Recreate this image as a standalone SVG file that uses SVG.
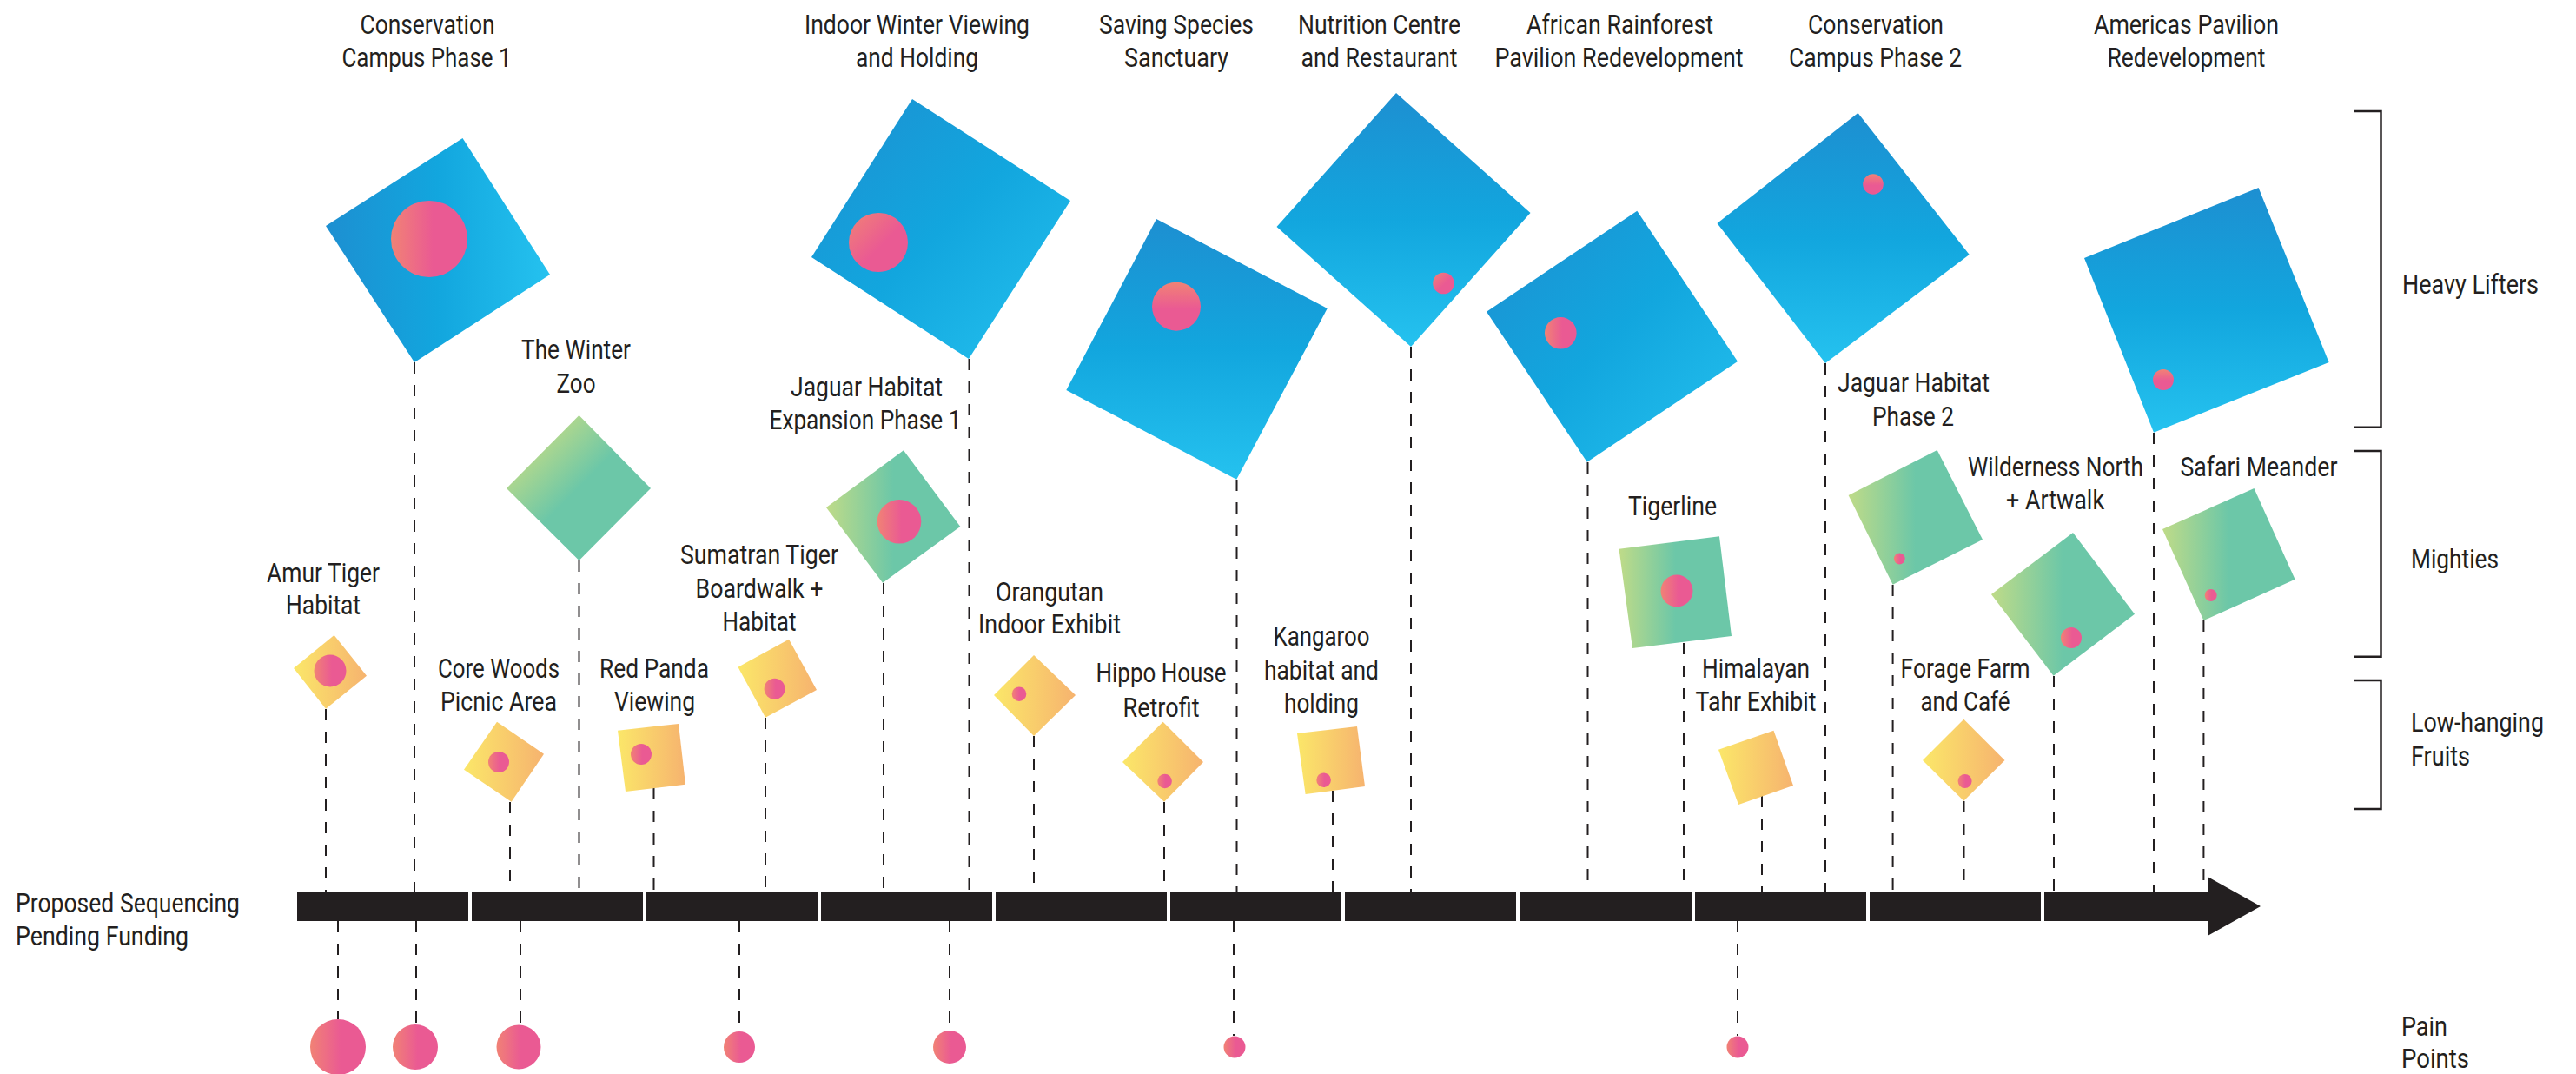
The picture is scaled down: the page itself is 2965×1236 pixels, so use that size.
<svg xmlns="http://www.w3.org/2000/svg" width="2965" height="1236" viewBox="0 0 2965 1236">
<defs>
<linearGradient id="blueH" x1="0" y1="0" x2="1" y2="0"><stop offset="0" stop-color="#1d8fd1"/><stop offset="0.5" stop-color="#12a6de"/><stop offset="1" stop-color="#25c2ef"/></linearGradient>
<linearGradient id="blueV" x1="0" y1="0" x2="0" y2="1"><stop offset="0" stop-color="#1d8fd1"/><stop offset="0.5" stop-color="#12a6de"/><stop offset="1" stop-color="#25c2ef"/></linearGradient>
<linearGradient id="blueD" x1="0" y1="0" x2="1" y2="1"><stop offset="0" stop-color="#1d8fd1"/><stop offset="0.5" stop-color="#12a6de"/><stop offset="1" stop-color="#25c2ef"/></linearGradient>
<linearGradient id="greenH" x1="0" y1="0" x2="1" y2="0"><stop offset="0" stop-color="#bfdb88"/><stop offset="0.5" stop-color="#6cc7a8"/><stop offset="1" stop-color="#6cc7a8"/></linearGradient>
<linearGradient id="greenD" x1="0" y1="0" x2="1" y2="1"><stop offset="0.15" stop-color="#c3dc86"/><stop offset="0.5" stop-color="#6cc7a8"/><stop offset="1" stop-color="#6cc7a8"/></linearGradient>
<linearGradient id="yellow" x1="0" y1="0" x2="1" y2="0"><stop offset="0" stop-color="#fbe769"/><stop offset="1" stop-color="#f6b36f"/></linearGradient>
<linearGradient id="pink" x1="0" y1="0" x2="1" y2="0"><stop offset="0" stop-color="#f18275"/><stop offset="0.55" stop-color="#ea5a93"/><stop offset="1" stop-color="#ea5a93"/></linearGradient>
<linearGradient id="pinkV" x1="0" y1="0" x2="0" y2="1"><stop offset="0" stop-color="#f18275"/><stop offset="0.55" stop-color="#ea5a93"/><stop offset="1" stop-color="#ea5a93"/></linearGradient>
<linearGradient id="pinkD" x1="0" y1="0" x2="1" y2="1"><stop offset="0" stop-color="#f18275"/><stop offset="0.55" stop-color="#ea5a93"/><stop offset="1" stop-color="#ea5a93"/></linearGradient>
</defs>
<style>
text{font-family:Roboto,"Liberation Sans",sans-serif;font-size:31px;fill:#231f20}
.c{text-anchor:middle}
.dash{stroke:#231f20;stroke-width:2;stroke-dasharray:13 13;fill:none}
.br{stroke:#231f20;stroke-width:2.5;fill:none}
.bar{fill:#231f20}
.pc{fill:url(#pink)}
</style>
<rect width="2965" height="1236" fill="#ffffff"/>

<g id="connectors">
<line class="dash" x1="375" y1="816" x2="375" y2="1026"/>
<line class="dash" x1="477" y1="417" x2="477" y2="1026"/>
<line class="dash" x1="587" y1="923" x2="587" y2="1026"/>
<line class="dash" x1="666.5" y1="645" x2="666.5" y2="1026"/>
<line class="dash" x1="752.5" y1="907" x2="752.5" y2="1026"/>
<line class="dash" x1="881" y1="826" x2="881" y2="1026"/>
<line class="dash" x1="1017" y1="671" x2="1017" y2="1026"/>
<line class="dash" x1="1115.5" y1="413" x2="1115.5" y2="1026"/>
<line class="dash" x1="1190" y1="847" x2="1190" y2="1026"/>
<line class="dash" x1="1340" y1="923" x2="1340" y2="1026"/>
<line class="dash" x1="1423.5" y1="552" x2="1423.5" y2="1026"/>
<line class="dash" x1="1534" y1="910" x2="1534" y2="1026"/>
<line class="dash" x1="1624" y1="399" x2="1624" y2="1026"/>
<line class="dash" x1="1827.5" y1="532" x2="1827.5" y2="1026"/>
<line class="dash" x1="1938" y1="740" x2="1938" y2="1026"/>
<line class="dash" x1="2028" y1="916" x2="2028" y2="1026"/>
<line class="dash" x1="2101" y1="418" x2="2101" y2="1026"/>
<line class="dash" x1="2178.6" y1="673" x2="2178.6" y2="1026"/>
<line class="dash" x1="2260.5" y1="922" x2="2260.5" y2="1026"/>
<line class="dash" x1="2364" y1="778" x2="2364" y2="1026"/>
<line class="dash" x1="2479" y1="498" x2="2479" y2="1026"/>
<line class="dash" x1="2536.4" y1="714" x2="2536.4" y2="1026"/>
<line class="dash" x1="389" y1="1060" x2="389" y2="1173"/>
<line class="dash" x1="479" y1="1060" x2="479" y2="1179"/>
<line class="dash" x1="599" y1="1060" x2="599" y2="1180"/>
<line class="dash" x1="851" y1="1060" x2="851" y2="1187"/>
<line class="dash" x1="1093" y1="1060" x2="1093" y2="1186"/>
<line class="dash" x1="1420" y1="1060" x2="1420" y2="1192"/>
<line class="dash" x1="2000" y1="1060" x2="2000" y2="1192"/>
</g>

<g id="timeline">
<rect class="bar" x="342" y="1026" width="197" height="34"/>
<rect class="bar" x="543" y="1026" width="197" height="34"/>
<rect class="bar" x="744" y="1026" width="197" height="34"/>
<rect class="bar" x="945" y="1026" width="197" height="34"/>
<rect class="bar" x="1146" y="1026" width="197" height="34"/>
<rect class="bar" x="1347" y="1026" width="197" height="34"/>
<rect class="bar" x="1548" y="1026" width="197" height="34"/>
<rect class="bar" x="1750" y="1026" width="197" height="34"/>
<rect class="bar" x="1951" y="1026" width="197" height="34"/>
<rect class="bar" x="2152" y="1026" width="197" height="34"/>
<polygon class="bar" points="2353,1026 2541,1026 2541,1009 2602,1043 2541,1077 2541,1060 2353,1060"/>
<text x="18" y="1050" textLength="258" lengthAdjust="spacingAndGlyphs">Proposed Sequencing</text>
<text x="18" y="1088" textLength="199" lengthAdjust="spacingAndGlyphs">Pending Funding</text>
</g>

<g id="categories">
<path class="br" d="M2709,128 H2740.5 V491.7 H2709"/>
<path class="br" d="M2709,519 H2740.5 V755.7 H2709"/>
<path class="br" d="M2709,783 H2740.5 V931 H2709"/>
<text x="2765" y="338" textLength="157" lengthAdjust="spacingAndGlyphs">Heavy Lifters</text>
<text x="2775" y="654" textLength="101" lengthAdjust="spacingAndGlyphs">Mighties</text>
<text x="2775" y="842" textLength="153" lengthAdjust="spacingAndGlyphs">Low-hanging</text>
<text x="2775" y="881" textLength="68" lengthAdjust="spacingAndGlyphs">Fruits</text>
<text x="2764" y="1192" textLength="53" lengthAdjust="spacingAndGlyphs">Pain</text>
<text x="2764" y="1229" textLength="78" lengthAdjust="spacingAndGlyphs">Points</text>
</g>

<g id="pain-points">
<circle class="pc" cx="389" cy="1205" r="32"/>
<circle class="pc" cx="478" cy="1205" r="26"/>
<circle class="pc" cx="597" cy="1205" r="25.5"/>
<circle class="pc" cx="851" cy="1205" r="18"/>
<circle class="pc" cx="1093" cy="1205" r="19"/>
<circle class="pc" cx="1421" cy="1205" r="12.5"/>
<circle class="pc" cx="2000" cy="1205" r="12.5"/>
</g>

<!-- Heavy Lifters -->
<g id="conservation-campus-1">
<polygon points="532.5,159 633,316 477,417 375,260" fill="url(#blueH)"/>
<circle cx="494" cy="275" r="44" fill="url(#pink)"/>
<text class="c" x="492" y="39" textLength="155" lengthAdjust="spacingAndGlyphs">Conservation</text>
<text class="c" x="491" y="77" textLength="195" lengthAdjust="spacingAndGlyphs">Campus Phase 1</text>
</g>
<g id="indoor-winter">
<polygon points="1050,114 1232,231 1115,413 934,296" fill="url(#blueD)"/>
<circle cx="1011" cy="279" r="34" fill="url(#pinkD)"/>
<text class="c" x="1055.5" y="39" textLength="259" lengthAdjust="spacingAndGlyphs">Indoor Winter Viewing</text>
<text class="c" x="1055.5" y="77" textLength="141" lengthAdjust="spacingAndGlyphs">and Holding</text>
</g>
<g id="saving-species">
<polygon points="1331,252 1527.7,355 1423.3,551.7 1227.3,449" fill="url(#blueV)"/>
<circle cx="1354" cy="352.7" r="28" fill="url(#pinkV)"/>
<text class="c" x="1354" y="39" textLength="178" lengthAdjust="spacingAndGlyphs">Saving Species</text>
<text class="c" x="1354" y="77" textLength="120" lengthAdjust="spacingAndGlyphs">Sanctuary</text>
</g>
<g id="nutrition-centre">
<polygon points="1607,107 1761.5,245 1624,399 1469.5,261" fill="url(#blueV)"/>
<circle cx="1661.5" cy="326" r="12.3" fill="url(#pinkD)"/>
<text class="c" x="1587.5" y="39" textLength="187" lengthAdjust="spacingAndGlyphs">Nutrition Centre</text>
<text class="c" x="1587.5" y="77" textLength="180" lengthAdjust="spacingAndGlyphs">and Restaurant</text>
</g>
<g id="african-rainforest">
<polygon points="1884.3,242.7 2000,416 1826.7,531.7 1711,358.7" fill="url(#blueD)"/>
<circle cx="1796.3" cy="383.3" r="18.3" fill="url(#pink)"/>
<text class="c" x="1864.5" y="39" textLength="215" lengthAdjust="spacingAndGlyphs">African Rainforest</text>
<text class="c" x="1863.5" y="77" textLength="286" lengthAdjust="spacingAndGlyphs">Pavilion Redevelopment</text>
</g>
<g id="conservation-campus-2">
<polygon points="2138.5,130 2266.7,293 2101,418 1976.5,257" fill="url(#blueV)"/>
<circle cx="2156" cy="212" r="11.8" fill="url(#pinkV)"/>
<text class="c" x="2159" y="39" textLength="156" lengthAdjust="spacingAndGlyphs">Conservation</text>
<text class="c" x="2158.5" y="77" textLength="199" lengthAdjust="spacingAndGlyphs">Campus Phase 2</text>
</g>
<g id="americas-pavilion">
<polygon points="2599.6,216 2680.6,417 2479,497.7 2399,297" fill="url(#blueV)"/>
<circle cx="2490" cy="437" r="12" fill="url(#pinkV)"/>
<text class="c" x="2516.5" y="39" textLength="213" lengthAdjust="spacingAndGlyphs">Americas Pavilion</text>
<text class="c" x="2516.5" y="77" textLength="182" lengthAdjust="spacingAndGlyphs">Redevelopment</text>
</g>

<!-- Mighties -->
<g id="winter-zoo">
<polygon points="666.5,478 749,562 666.5,645 583,562" fill="url(#greenD)"/>
<text class="c" x="663" y="413" textLength="126" lengthAdjust="spacingAndGlyphs">The Winter</text>
<text class="c" x="663" y="452" textLength="45" lengthAdjust="spacingAndGlyphs">Zoo</text>
</g>
<g id="jaguar-expansion-1">
<polygon points="1040,518.3 1105.3,606 1016,670.7 951,584" fill="url(#greenH)"/>
<circle cx="1035" cy="600.3" r="25.3" fill="url(#pink)"/>
<text class="c" x="997.5" y="456" textLength="175" lengthAdjust="spacingAndGlyphs">Jaguar Habitat</text>
<text class="c" x="996" y="494" textLength="221" lengthAdjust="spacingAndGlyphs">Expansion Phase 1</text>
</g>
<g id="tigerline">
<polygon points="1863.5,631.7 1979,617.3 1993,732 1879,746" fill="url(#greenH)"/>
<circle cx="1930" cy="680" r="18.5" fill="url(#pink)"/>
<text class="c" x="1925" y="593" textLength="102" lengthAdjust="spacingAndGlyphs">Tigerline</text>
</g>
<g id="jaguar-phase-2">
<polygon points="2229.7,518 2282,621 2178.6,672.7 2127.6,570" fill="url(#greenH)"/>
<circle cx="2186.3" cy="643" r="6.4" fill="url(#pink)"/>
<text class="c" x="2202.5" y="451" textLength="175" lengthAdjust="spacingAndGlyphs">Jaguar Habitat</text>
<text class="c" x="2202" y="490" textLength="94" lengthAdjust="spacingAndGlyphs">Phase 2</text>
</g>
<g id="wilderness-north">
<polygon points="2386,613 2457,706.7 2363.6,777.7 2292,684" fill="url(#greenH)"/>
<circle cx="2384" cy="734" r="12" fill="url(#pink)"/>
<text class="c" x="2366" y="548" textLength="202" lengthAdjust="spacingAndGlyphs">Wilderness North</text>
<text class="c" x="2365.5" y="586" textLength="113" lengthAdjust="spacingAndGlyphs">+ Artwalk</text>
</g>
<g id="safari-meander">
<polygon points="2594.5,562 2641.6,666.7 2536.4,714 2489,609" fill="url(#greenH)"/>
<circle cx="2544.7" cy="685" r="7" fill="url(#pink)"/>
<text class="c" x="2600" y="548" textLength="181" lengthAdjust="spacingAndGlyphs">Safari Meander</text>
</g>

<!-- Low-hanging Fruits -->
<g id="amur-tiger">
<polygon points="384.6,731 422,777.7 375,815.7 338,769" fill="url(#yellow)"/>
<circle cx="380" cy="772" r="18.5" fill="url(#pink)"/>
<text class="c" x="372" y="670" textLength="130" lengthAdjust="spacingAndGlyphs">Amur Tiger</text>
<text class="c" x="372" y="707" textLength="86" lengthAdjust="spacingAndGlyphs">Habitat</text>
</g>
<g id="core-woods">
<polygon points="572,830.7 626,867.7 588.6,922.7 534,885.7" fill="url(#yellow)"/>
<circle cx="574" cy="877" r="12" fill="url(#pink)"/>
<text class="c" x="574" y="780" textLength="140" lengthAdjust="spacingAndGlyphs">Core Woods</text>
<text class="c" x="574" y="818" textLength="134" lengthAdjust="spacingAndGlyphs">Picnic Area</text>
</g>
<g id="red-panda">
<polygon points="711,840.7 781,833 789,902.7 720,911" fill="url(#yellow)"/>
<circle cx="738" cy="868" r="12" fill="url(#pink)"/>
<text class="c" x="753" y="780" textLength="126" lengthAdjust="spacingAndGlyphs">Red Panda</text>
<text class="c" x="753.5" y="818" textLength="93" lengthAdjust="spacingAndGlyphs">Viewing</text>
</g>
<g id="sumatran-tiger">
<polygon points="908,735.7 940,794 881,825.7 849.5,767.7" fill="url(#yellow)"/>
<circle cx="891.6" cy="792.7" r="12" fill="url(#pink)"/>
<text class="c" x="874" y="649" textLength="182" lengthAdjust="spacingAndGlyphs">Sumatran Tiger</text>
<text class="c" x="874" y="688" textLength="147" lengthAdjust="spacingAndGlyphs">Boardwalk +</text>
<text class="c" x="874" y="726" textLength="85" lengthAdjust="spacingAndGlyphs">Habitat</text>
</g>
<g id="orangutan">
<polygon points="1190,754 1238,800 1190,847 1144,800" fill="url(#yellow)"/>
<circle cx="1173" cy="798.7" r="8.3" fill="url(#pink)"/>
<text class="c" x="1208" y="692" textLength="124" lengthAdjust="spacingAndGlyphs">Orangutan</text>
<text class="c" x="1208" y="729" textLength="164" lengthAdjust="spacingAndGlyphs">Indoor Exhibit</text>
</g>
<g id="hippo-house">
<polygon points="1338.6,830.7 1385,877 1340,922.7 1292,877" fill="url(#yellow)"/>
<circle cx="1340.6" cy="899" r="8.3" fill="url(#pink)"/>
<text class="c" x="1336.5" y="785" textLength="150" lengthAdjust="spacingAndGlyphs">Hippo House</text>
<text class="c" x="1336.5" y="825" textLength="88" lengthAdjust="spacingAndGlyphs">Retrofit</text>
</g>
<g id="kangaroo">
<polygon points="1493,844 1562,836 1571,905 1502.6,914" fill="url(#yellow)"/>
<circle cx="1523.6" cy="897.7" r="8.3" fill="url(#pink)"/>
<text class="c" x="1521" y="743" textLength="111" lengthAdjust="spacingAndGlyphs">Kangaroo</text>
<text class="c" x="1521" y="782" textLength="132" lengthAdjust="spacingAndGlyphs">habitat and</text>
<text class="c" x="1521" y="820" textLength="86" lengthAdjust="spacingAndGlyphs">holding</text>
</g>
<g id="himalayan-tahr">
<polygon points="1978,862.7 2041.5,840.7 2064,904 2001,926" fill="url(#yellow)"/>
<text class="c" x="2021" y="780" textLength="124" lengthAdjust="spacingAndGlyphs">Himalayan</text>
<text class="c" x="2021" y="818" textLength="139" lengthAdjust="spacingAndGlyphs">Tahr Exhibit</text>
</g>
<g id="forage-farm">
<polygon points="2260.3,827.7 2307.5,875 2260.3,921.7 2213,875" fill="url(#yellow)"/>
<circle cx="2261.6" cy="899" r="8" fill="url(#pink)"/>
<text class="c" x="2262" y="780" textLength="149" lengthAdjust="spacingAndGlyphs">Forage Farm</text>
<text class="c" x="2262" y="818" textLength="103" lengthAdjust="spacingAndGlyphs">and Café</text>
</g>
</svg>
